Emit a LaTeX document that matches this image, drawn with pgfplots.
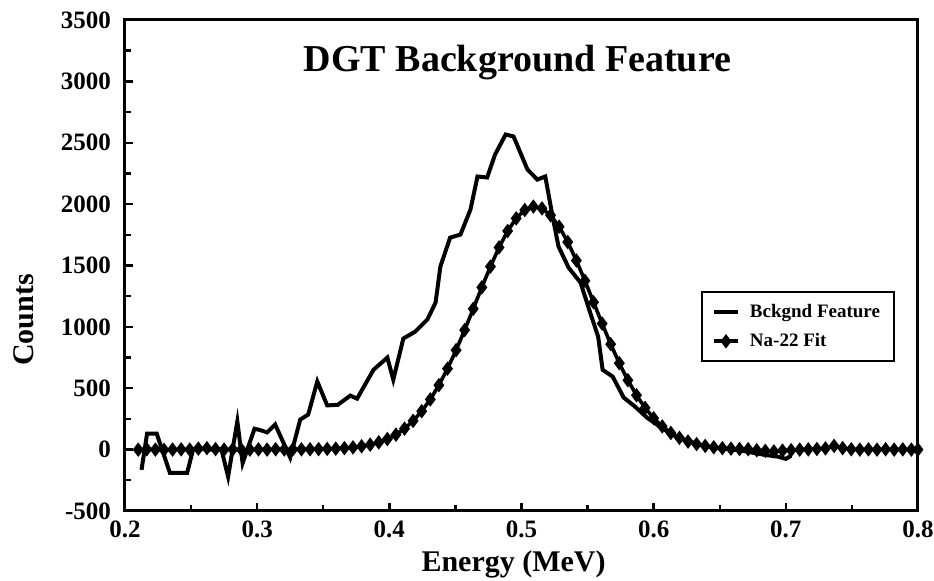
\documentclass[border=0pt]{standalone}
\usepackage{fontspec}
\setmainfont{Liberation Serif}
\usepackage{pgfplots}
\pgfplotsset{compat=1.18}
\begin{document}
\begin{tikzpicture}
\useasboundingbox (-62.5pt,-35pt) rectangle (404.5pt,255.5pt);
\begin{axis}[
  scale only axis, width=396.5pt, height=245.5pt,
  xmin=0.2, xmax=0.8, ymin=-500, ymax=3500,
  clip=false,
  xtick={0.2,0.3,0.4,0.5,0.6,0.7,0.8},
  xticklabels={0.2,0.3,0.4,0.5,0.6,0.7,0.8},
  minor xtick={0.25,0.35,0.45,0.55,0.65,0.75},
  ytick={-500,0,500,1000,1500,2000,2500,3000,3500},
  yticklabels={-500,0,500,1000,1500,2000,2500,3000,3500},
  minor ytick={-250,250,750,1250,1750,2250,2750,3250},
  xtick pos=bottom, ytick pos=left, tick align=inside,
  major tick length=4pt, minor tick length=3pt,
  every tick/.style={black, line width=1.2pt},
  axis line style={line width=1.5pt},
  ticklabel style={font=\fontsize{12.5}{14}\selectfont\bfseries},
  yticklabel style={xshift=-3.5pt},
  xticklabel style={yshift=-1.5pt},
  xlabel={Energy (MeV)}, ylabel={Counts},
  label style={font=\fontsize{15}{18}\selectfont\bfseries},
  xlabel style={at={(axis description cs:0.49,-0.108)}, anchor=center},
  ylabel style={at={(axis description cs:-0.1274,0.389)}, anchor=center},
  legend style={at={(rel axis cs:0.971,0.448)}, anchor=north east,
    font=\fontsize{9.5}{11}\selectfont\bfseries, draw=black, line width=1pt,
    inner xsep=5pt, inner ysep=4pt, row sep=2.5pt, column sep=3pt},
  legend cell align=left,
  legend image code/.code={\draw[mark repeat=2,mark phase=2,#1] plot coordinates {(0pt,0pt) (6pt,0pt) (12pt,0pt)};},
]
\addplot[black, line width=2pt, mark=none] coordinates {
(0.2125,-165) (0.2167,130) (0.2240,130) (0.2340,-190) (0.2470,-190) (0.2515,0)
(0.2580,5) (0.2650,0) (0.2730,0) (0.2780,-220) (0.2850,230) (0.2890,-110)
(0.2980,170) (0.3020,160) (0.3076,140) (0.3136,205) (0.3250,-65) (0.3326,245)
(0.3386,285) (0.3455,555) (0.3530,360) (0.3610,365) (0.3705,440) (0.3756,415)
(0.3880,650) (0.3985,750) (0.4030,570) (0.4106,905) (0.4197,962) (0.4288,1060)
(0.4350,1198) (0.4386,1490) (0.4460,1727) (0.4538,1752) (0.4614,1956) (0.4667,2225)
(0.4740,2217) (0.4800,2404) (0.4880,2567) (0.4940,2551) (0.5045,2282) (0.5120,2200)
(0.5180,2225) (0.5235,1900) (0.5280,1655) (0.5356,1483) (0.5447,1360) (0.5520,1115)
(0.5580,920) (0.5614,650) (0.5690,595) (0.5773,424) (0.5860,350) (0.5950,260)
(0.6030,200) (0.6100,150) (0.6180,100) (0.6260,70) (0.6350,40) (0.6450,15)
(0.6550,5) (0.6650,-5) (0.6750,-25) (0.6850,-45) (0.6930,-55) (0.7000,-75) (0.7040,-50)
};
\addlegendentry{Bckgnd Feature}
\addplot[black, line width=1.8pt, mark=diamond*, mark size=2.9pt, mark options={solid, line width=0.9pt}] coordinates {
(0.2100,0) (0.2165,3) (0.2230,0) (0.2295,-2) (0.2360,0) (0.2425,2) (0.2490,0)
(0.2555,8) (0.2620,12) (0.2685,4) (0.2750,0) (0.2815,2) (0.2880,0) (0.2945,0)
(0.3010,2) (0.3075,0) (0.3140,3) (0.3205,1) (0.3270,2) (0.3335,2) (0.3400,3)
(0.3465,4) (0.3530,6) (0.3595,8) (0.3660,12) (0.3725,18) (0.3790,27) (0.3855,40)
(0.3920,59) (0.3985,86) (0.4050,122) (0.4115,171) (0.4180,234) (0.4245,313)
(0.4310,409) (0.4375,525) (0.4440,659) (0.4505,810) (0.4570,974) (0.4635,1147)
(0.4700,1322) (0.4765,1491) (0.4830,1647) (0.4895,1781) (0.4960,1884) (0.5025,1952)
(0.5090,1980) (0.5155,1965) (0.5220,1909) (0.5285,1816) (0.5350,1691) (0.5415,1541)
(0.5480,1375) (0.5545,1201) (0.5610,1027) (0.5675,859) (0.5740,704) (0.5805,565)
(0.5870,443) (0.5935,340) (0.6000,256) (0.6065,189) (0.6130,136) (0.6195,96)
(0.6260,66) (0.6325,45) (0.6390,30) (0.6455,19) (0.6520,12) (0.6585,8) (0.6650,5)
(0.6715,3) (0.6780,-5) (0.6845,-10) (0.6910,-15) (0.6975,-8) (0.7040,-5) (0.7105,0)
(0.7170,2) (0.7235,5) (0.7300,10) (0.7365,30) (0.7430,12) (0.7495,3) (0.7560,0)
(0.7625,2) (0.7690,0) (0.7755,3) (0.7820,0) (0.7885,2) (0.7950,0) (0.8000,0)
};
\addlegendentry{Na-22 Fit}
\node[font=\fontsize{19}{22}\selectfont\bfseries] at (axis cs:0.497,3150) {DGT Background Feature};
\end{axis}
\end{tikzpicture}
\end{document}
